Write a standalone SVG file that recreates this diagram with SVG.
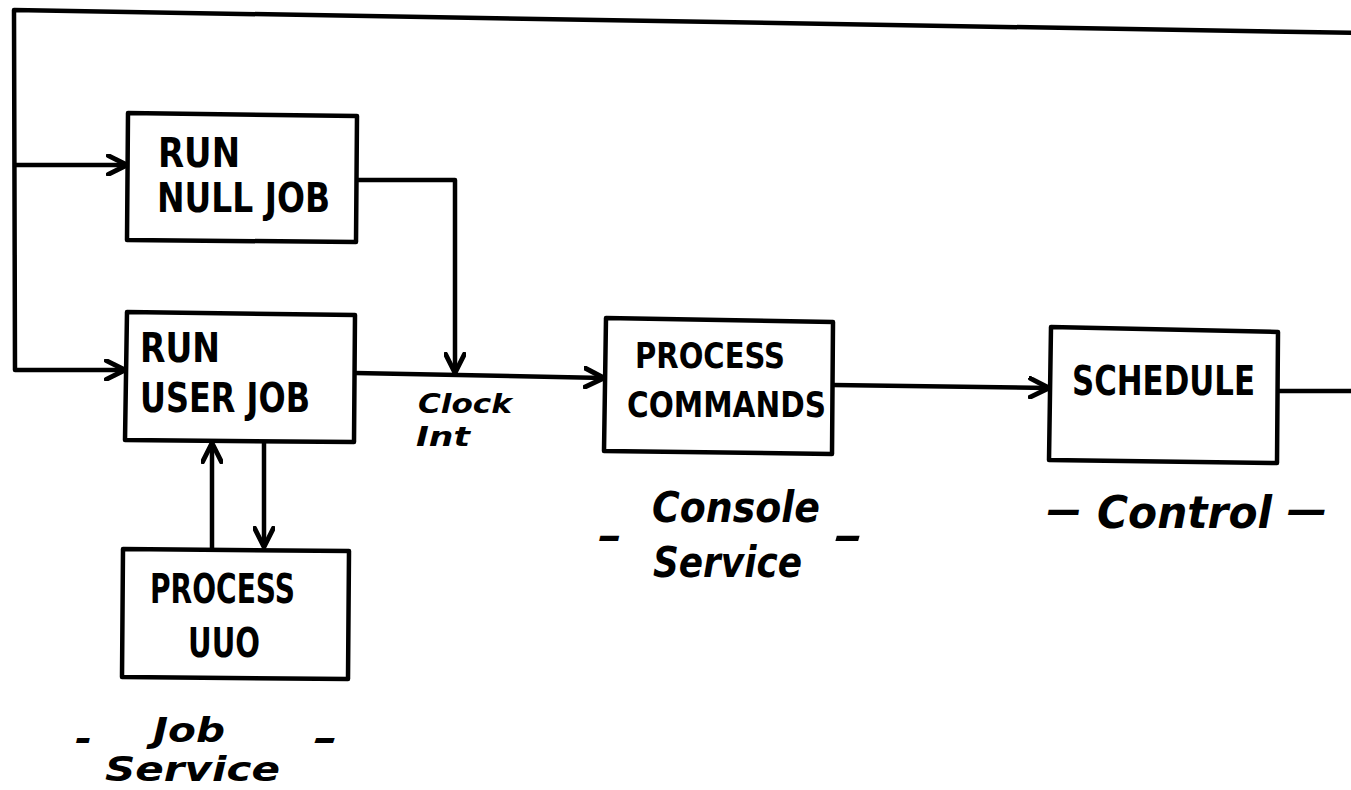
<svg xmlns="http://www.w3.org/2000/svg" width="1351" height="790" viewBox="0 0 1351 790">
<style>
.box{fill:#fff;stroke:#000;stroke-width:4.5;stroke-linejoin:round}
.lbl{font-family:"DejaVu Sans","Liberation Sans",sans-serif;font-weight:bold;fill:#000}
.cap{font-size:40px}
.ita{font-family:"DejaVu Sans","Liberation Sans",sans-serif;font-weight:bold;font-style:italic;fill:#000}
.wire{fill:none;stroke:#000;stroke-width:4.5;stroke-linejoin:round}
</style>
<defs>
<marker id="ah" viewBox="0 0 12 12" refX="11" refY="6" markerWidth="5" markerHeight="5" markerUnits="strokeWidth" orient="auto">
<path d="M1,1 L11,6 L1,11" fill="none" stroke="#000" stroke-width="2.6" stroke-linecap="round" stroke-linejoin="round"/>
</marker>
</defs>
<rect width="1351" height="790" fill="#fff"/>
<g id="connectors">
<path class="wire" d="M1278,391 L1360,391"/>
<path class="wire" d="M1360,33 L14,10 L15,370 L125,370" marker-end="url(#ah)"/>
<path class="wire" d="M15,165 L127,165" marker-end="url(#ah)"/>
<path class="wire" d="M357,180 L455,180 L455,373" marker-end="url(#ah)"/>
<path class="wire" d="M355,373 L604,378" marker-end="url(#ah)"/>
<path class="wire" d="M833,385 L1049,388" marker-end="url(#ah)"/>
<path class="wire" d="M212,548 L212,443" marker-end="url(#ah)"/>
<path class="wire" d="M264,442 L264,547" marker-end="url(#ah)"/>
</g>
<g id="run-null-job">
<path class="box" d="M128,113 L357,116 L356,242 L127,240 Z"/>
<text class="lbl cap" x="158" y="167" textLength="82" lengthAdjust="spacingAndGlyphs">RUN</text>
<text class="lbl cap" x="157" y="212" textLength="173" lengthAdjust="spacingAndGlyphs">NULL JOB</text>
</g>
<g id="run-user-job">
<path class="box" d="M127,312 L355,315 L354,442 L125,440 Z"/>
<text class="lbl cap" x="140" y="362" textLength="80" lengthAdjust="spacingAndGlyphs">RUN</text>
<text class="lbl cap" x="140" y="412" textLength="170" lengthAdjust="spacingAndGlyphs">USER JOB</text>
</g>
<g id="process-uuo">
<path class="box" d="M123,549 L349,551 L348,679 L122,677 Z"/>
<text class="lbl cap" x="150" y="603" textLength="145" lengthAdjust="spacingAndGlyphs">PROCESS</text>
<text class="lbl cap" x="188" y="657" textLength="72" lengthAdjust="spacingAndGlyphs">UUO</text>
</g>
<g id="process-commands">
<path class="box" d="M606,318 L833,322 L832,454 L604,451 Z"/>
<text class="lbl" style="font-size:36px" x="635" y="368" textLength="150" lengthAdjust="spacingAndGlyphs">PROCESS</text>
<text class="lbl" style="font-size:36px" x="627" y="417" textLength="199" lengthAdjust="spacingAndGlyphs">COMMANDS</text>
</g>
<g id="schedule">
<path class="box" d="M1051,327 L1278,332 L1277,463 L1049,460 Z"/>
<text class="lbl" style="font-size:40px" x="1072" y="395" textLength="183" lengthAdjust="spacingAndGlyphs">SCHEDULE</text>
</g>
<g id="labels">
<text class="ita" style="font-size:27px" x="418" y="413" textLength="94" lengthAdjust="spacingAndGlyphs">Clock</text>
<text class="ita" style="font-size:27px" x="416" y="446" textLength="54" lengthAdjust="spacingAndGlyphs">Int</text>
<text class="ita" style="font-size:42px" x="652" y="522" textLength="168" lengthAdjust="spacingAndGlyphs">Console</text>
<text class="ita" style="font-size:42px" x="653" y="577" textLength="149" lengthAdjust="spacingAndGlyphs">Service</text>
<text class="ita" style="font-size:40px" x="598" y="550" textLength="24" lengthAdjust="spacingAndGlyphs">–</text>
<text class="ita" style="font-size:40px" x="834" y="550" textLength="29" lengthAdjust="spacingAndGlyphs">–</text>
<text class="ita" style="font-size:44px" x="1097" y="528" textLength="175" lengthAdjust="spacingAndGlyphs">Control</text>
<text class="ita" style="font-size:40px" x="1047" y="524" textLength="34" lengthAdjust="spacingAndGlyphs">—</text>
<text class="ita" style="font-size:40px" x="1287" y="524" textLength="40" lengthAdjust="spacingAndGlyphs">—</text>
<text class="ita" style="font-size:33px" x="153" y="742" textLength="72" lengthAdjust="spacingAndGlyphs">Job</text>
<text class="ita" style="font-size:33px" x="105" y="781" textLength="175" lengthAdjust="spacingAndGlyphs">Service</text>
<text class="ita" style="font-size:36px" x="75" y="751" textLength="17" lengthAdjust="spacingAndGlyphs">-</text>
<text class="ita" style="font-size:36px" x="313" y="751" textLength="25" lengthAdjust="spacingAndGlyphs">-</text>
</g>
</svg>
